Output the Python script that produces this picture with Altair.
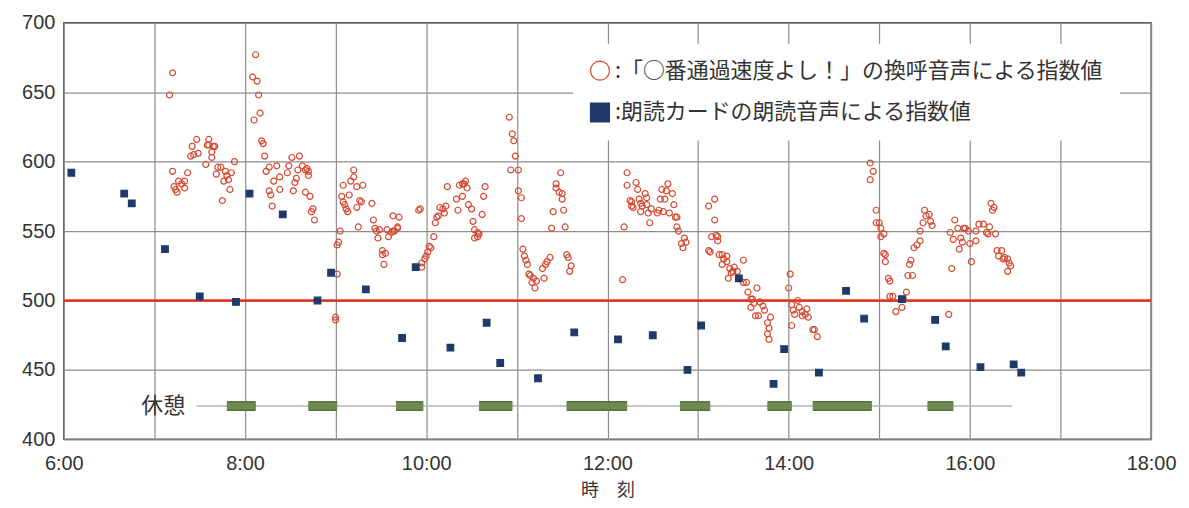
import altair as alt
import pandas as pd

# ---------------- data ----------------
red_times = [
    "7:10", "7:12", "7:12", "7:13", "7:14", "7:15", "7:16", "7:18", "7:20", "7:20",
    "7:22", "7:24", "7:25", "7:26", "7:28", "7:29", "7:34", "7:35", "7:36", "7:36",
    "7:38", "7:38", "7:39", "7:40", "7:41", "7:42", "7:44", "7:45", "7:46", "7:47",
    "7:48", "7:49", "7:50", "7:51", "7:53",
    "8:05", "8:06", "8:07", "8:08", "8:09", "8:10", "8:11", "8:12", "8:13", "8:14",
    "8:16", "8:16", "8:17", "8:18", "8:19", "8:21", "8:23", "8:23", "8:28", "8:29",
    "8:31", "8:32", "8:33", "8:34", "8:35", "8:36", "8:38", "8:40", "8:40", "8:41",
    "8:42", "8:42", "8:43", "8:44", "8:45", "8:46",
    "9:00", "9:00", "9:01", "9:01", "9:02", "9:03", "9:04", "9:05", "9:05", "9:06",
    "9:07", "9:08", "9:09", "9:10", "9:12", "9:12", "9:14", "9:14", "9:15", "9:16",
    "9:17", "9:18", "9:24", "9:25", "9:26", "9:27", "9:28", "9:29", "9:31", "9:31",
    "9:32", "9:33", "9:34", "9:35", "9:37", "9:38", "9:38", "9:39", "9:41", "9:41",
    "9:42",
    "9:55", "9:56", "9:57", "9:57", "9:59", "10:00", "10:01", "10:02", "10:03", "10:05",
    "10:06", "10:07", "10:08", "10:09", "10:11", "10:12", "10:13", "10:14", "10:20", "10:21",
    "10:22", "10:24", "10:24", "10:25", "10:26", "10:27", "10:28", "10:30", "10:31", "10:32",
    "10:32", "10:34", "10:34", "10:35", "10:37", "10:38", "10:39",
    "10:55", "10:56", "10:57", "10:58", "10:59", "11:01", "11:01", "11:03", "11:03", "11:04",
    "11:05", "11:06", "11:07", "11:08", "11:09", "11:10", "11:11", "11:12", "11:13", "11:17",
    "11:18", "11:19", "11:20", "11:22", "11:23", "11:24", "11:26", "11:26", "11:28", "11:29",
    "11:30", "11:30", "11:31", "11:32", "11:33", "11:34", "11:35", "11:36",
    "12:10", "12:11", "12:13", "12:13", "12:15", "12:16", "12:16", "12:17", "12:19", "12:20",
    "12:21", "12:22", "12:22", "12:23", "12:25", "12:26", "12:26", "12:27", "12:28", "12:29",
    "12:33", "12:34", "12:35", "12:36", "12:37", "12:38", "12:39", "12:40", "12:41", "12:43",
    "12:44", "12:45", "12:46", "12:46", "12:47", "12:49", "12:50", "12:51", "12:52",
    "13:07", "13:07", "13:08", "13:09", "13:11", "13:11", "13:12", "13:13", "13:13", "13:14",
    "13:16", "13:16", "13:17", "13:19", "13:19", "13:20", "13:21", "13:22", "13:23", "13:24",
    "13:26", "13:30", "13:30", "13:32", "13:33", "13:35", "13:35", "13:36", "13:37", "13:38",
    "13:39", "13:40", "13:41", "13:43", "13:44", "13:46", "13:46", "13:47", "13:47", "13:48",
    "14:00", "14:01", "14:02", "14:02", "14:03", "14:04", "14:06", "14:07", "14:09", "14:09",
    "14:11", "14:12", "14:13", "14:16", "14:17", "14:19",
    "14:54", "14:54", "14:56", "14:58", "14:58", "15:00", "15:01", "15:01", "15:03", "15:03",
    "15:04", "15:04", "15:06", "15:07", "15:07", "15:09", "15:11", "15:15", "15:16", "15:18",
    "15:19", "15:20", "15:21", "15:22", "15:23", "15:25", "15:27", "15:27", "15:29", "15:30",
    "15:31", "15:33", "15:34", "15:35",
    "15:46", "15:47", "15:48", "15:49", "15:50", "15:52", "15:53", "15:54", "15:55", "15:56",
    "15:57", "15:59", "16:00", "16:01", "16:04", "16:04", "16:06", "16:09", "16:11", "16:12",
    "16:13", "16:14", "16:15", "16:16", "16:17", "16:18", "16:19", "16:21", "16:22", "16:23",
    "16:25", "16:25", "16:26", "16:27",
]
red_values = [
    648, 664, 593, 582, 580, 578, 586, 584, 586, 581,
    592, 604, 611, 605, 616, 606, 598, 612, 616, 612,
    607, 603, 611, 611, 591, 596, 596, 572, 586, 593,
    590, 587, 580, 592, 600,
    661, 630, 677, 658, 648, 635, 615, 613, 604, 593,
    596, 579, 576, 568, 586, 597, 589, 580, 592, 597,
    603, 579, 585, 588, 594, 604, 597, 594, 578, 595,
    593, 590, 575, 564, 566, 558,
    488, 486, 519, 540, 542, 550, 575, 571, 583, 569,
    566, 564, 576, 586, 594, 589, 582, 567, 553, 572,
    571, 583, 570, 558, 552, 550, 545, 551, 536, 533,
    526, 534, 551, 546, 549, 550, 561, 550, 552, 553,
    560,
    565, 566, 524, 527, 530, 532, 535, 539, 538, 546,
    556, 560, 561, 567, 566, 563, 568, 582, 573, 565,
    583, 575, 584, 584, 586, 581, 569, 566, 557, 551,
    545, 549, 546, 548, 562, 575, 582,
    632, 594, 620, 615, 604, 594, 579, 574, 559, 537,
    532, 529, 526, 519, 518, 513, 516, 509, 514, 523,
    516, 526, 528, 531, 552, 564, 584, 581, 578, 592,
    577, 573, 565, 553, 533, 531, 521, 525,
    515, 553, 592, 583, 572, 571, 568, 567, 585, 580,
    573, 570, 564, 568, 577, 574, 569, 563, 556, 566,
    563, 565, 573, 580, 564, 573, 579, 584, 563, 577,
    569, 560, 560, 553, 550, 541, 538, 545, 542,
    568, 536, 535, 546, 573, 558, 547, 546, 543, 533,
    533, 526, 530, 532, 528, 516, 523, 520, 521, 524,
    521, 529, 513, 513, 506, 501, 495, 501, 498, 489,
    509, 489, 499, 496, 493, 484, 476, 480, 472, 488,
    509, 519, 497, 482, 493, 490, 500, 495, 492, 489,
    490, 494, 488, 479, 479, 474,
    599, 587, 593, 565, 556, 556, 552, 546, 548, 534,
    533, 528, 516, 514, 503, 503, 492, 495, 501, 506,
    518, 526, 529, 518, 538, 540, 543, 550, 556, 565,
    561, 562, 557, 554,
    490, 549, 523, 544, 558, 552, 537, 545, 542, 552,
    552, 550, 541, 528, 543, 550, 555, 555, 549, 548,
    553, 570, 565, 567, 548, 536, 532, 536, 530, 531,
    530, 521, 527, 525,
]

blue_times = [
    "6:05", "6:40", "6:45", "7:07", "7:30", "7:54", "8:03", "8:25", "8:48", "8:57",
    "9:20", "9:44", "9:53", "10:16", "10:40", "10:49", "11:14", "11:38", "12:07", "12:30",
    "12:53", "13:02", "13:27", "13:50", "13:57", "14:20", "14:38", "14:50", "15:15", "15:37",
    "15:44", "16:07", "16:29", "16:34",
]
blue_values = [
    592, 577, 570, 537, 503, 499, 577, 562, 500, 520,
    508, 473, 524, 466, 484, 455, 444, 477, 472, 475,
    450, 482, 516, 440, 465, 448, 507, 487, 501, 486,
    467, 452, 454, 448,
]

break_starts = ["7:48", "8:42", "9:40", "10:35", "11:33", "12:48", "13:46", "14:16", "15:32"]
break_ends = ["8:07", "9:01", "9:58", "10:57", "12:13", "13:08", "14:02", "14:55", "15:49"]
break_span = ["7:28", "16:28"]
break_level = 424
break_label = "休憩"
break_label_time = "7:23"

target_value = 500
hour_grid = list(range(6, 19))
value_ticks = [400, 450, 500, 550, 600, 650, 700]

label_red = ":「○番通過速度よし！」の換呼音声による指数値"
label_blue = ":朗読カードの朗読音声による指数値"

RED = "#d44a32"
NAVY = "#1f3a68"
LINE_RED = "#e3341f"
GREEN = "#6d8b4f"
GREEN_EDGE = "#55703c"
GRAY = "#b4b4b4"


def to_hours(s):
    h, m = s.split(":")
    return int(h) + int(m) / 60.0


assert len(red_times) == len(red_values)
assert len(blue_times) == len(blue_values)

red_df = pd.DataFrame({"t": [to_hours(s) for s in red_times], "v": red_values, "series": label_red})
blue_df = pd.DataFrame({"t": [to_hours(s) for s in blue_times], "v": blue_values, "series": label_blue})

breaks = pd.DataFrame({
    "t0": [to_hours(s) for s in break_starts],
    "t1": [to_hours(s) for s in break_ends],
    "lv": break_level,
})
span = pd.DataFrame({"t0": [to_hours(break_span[0])], "t1": [to_hours(break_span[1])], "lv": [break_level]})
label_df = pd.DataFrame({"t": [to_hours(break_label_time)], "lv": [break_level], "txt": [break_label]})
target_df = pd.DataFrame({"v": [target_value]})

x_scale = alt.Scale(domain=[6, 18], nice=False, zero=False)
y_scale = alt.Scale(domain=[400, 700], nice=False, zero=False)

x_axis = alt.Axis(
    values=hour_grid,
    labelExpr="datum.value % 2 == 0 ? datum.value + ':00' : ''",
    title="時　刻",
    titleFont="Noto Sans CJK JP",
    titleFontSize=18,
    titleFontWeight="normal",
    titleColor="#333333",
    titlePadding=8,
    labelFont="Liberation Sans",
    labelFontSize=20,
    labelColor="#333333",
    labelPadding=14,
    labelOverlap=False,
    labelFlush=False,
    ticks=False,
    domain=False,
    grid=True,
    gridColor="#8c8c8c",
    gridWidth=1.2,
)
y_axis = alt.Axis(
    values=value_ticks,
    title=None,
    labelFont="Liberation Sans",
    labelFontSize=20,
    labelColor="#333333",
    labelPadding=9,
    labelFlush=False,
    ticks=False,
    domain=False,
    grid=True,
    gridColor="#8c8c8c",
    gridWidth=1.2,
)

domain_s = [label_red, label_blue]
color_enc = alt.Color(
    "series:N",
    scale=alt.Scale(domain=domain_s, range=[RED, NAVY]),
    title=None,
    legend=alt.Legend(
        orient="none",
        legendX=511,
        legendY=21,
        fillColor="white",
        padding=16,
        labelFont="Noto Sans CJK JP",
        labelFontSize=22,
        labelColor="#333333",
        labelLimit=0,
        labelOffset=4,
        rowPadding=18,
        symbolSize=361,
        symbolStrokeWidth=1.2,
    ),
)
shape_enc = alt.Shape("series:N", scale=alt.Scale(domain=domain_s, range=["circle", "square"]), title=None)
fill_enc = alt.Fill("series:N", scale=alt.Scale(domain=domain_s, range=["transparent", NAVY]), title=None)

target = alt.Chart(target_df).mark_rule(color=LINE_RED, strokeWidth=2.4).encode(
    y=alt.Y("v:Q", scale=y_scale, axis=y_axis)
)

span_line = alt.Chart(span).mark_rule(color=GRAY, strokeWidth=1.6).encode(
    x=alt.X("t0:Q", scale=x_scale, axis=x_axis),
    x2="t1:Q",
    y=alt.Y("lv:Q", scale=y_scale),
)

break_edges = alt.Chart(breaks).mark_rule(color=GREEN_EDGE, strokeWidth=10, strokeCap="butt").encode(
    x=alt.X("t0:Q", scale=x_scale),
    x2="t1:Q",
    y=alt.Y("lv:Q", scale=y_scale),
)

break_bars = alt.Chart(breaks).mark_rule(color=GREEN, strokeWidth=7, strokeCap="butt").encode(
    x=alt.X("t0:Q", scale=x_scale),
    x2="t1:Q",
    y=alt.Y("lv:Q", scale=y_scale),
)

break_text = alt.Chart(label_df).mark_text(
    align="right", baseline="middle", font="Noto Sans CJK JP", fontSize=22, color="#333333", dx=-4
).encode(
    x=alt.X("t:Q", scale=x_scale),
    y=alt.Y("lv:Q", scale=y_scale),
    text="txt:N",
)

red_pts = alt.Chart(red_df).mark_point(filled=False, strokeWidth=1.2, size=36, opacity=1).encode(
    x=alt.X("t:Q", scale=x_scale),
    y=alt.Y("v:Q", scale=y_scale),
    color=color_enc,
    shape=shape_enc,
    fill=fill_enc,
)

blue_pts = alt.Chart(blue_df).mark_point(filled=False, strokeWidth=1.2, size=44, opacity=1).encode(
    x=alt.X("t:Q", scale=x_scale),
    y=alt.Y("v:Q", scale=y_scale),
    color=color_enc,
    shape=shape_enc,
    fill=fill_enc,
)

chart = alt.layer(span_line, target, break_edges, break_bars, break_text, red_pts, blue_pts).properties(
    width=1091,
    height=418,
    autosize=alt.AutoSizeParams(type="none"),
    padding={"left": 56, "top": 14, "right": 30, "bottom": 60},
).configure_view(stroke="#555555", strokeWidth=1.5)

chart.save("out.html", embed_options={"renderer": "svg", "actions": False})
